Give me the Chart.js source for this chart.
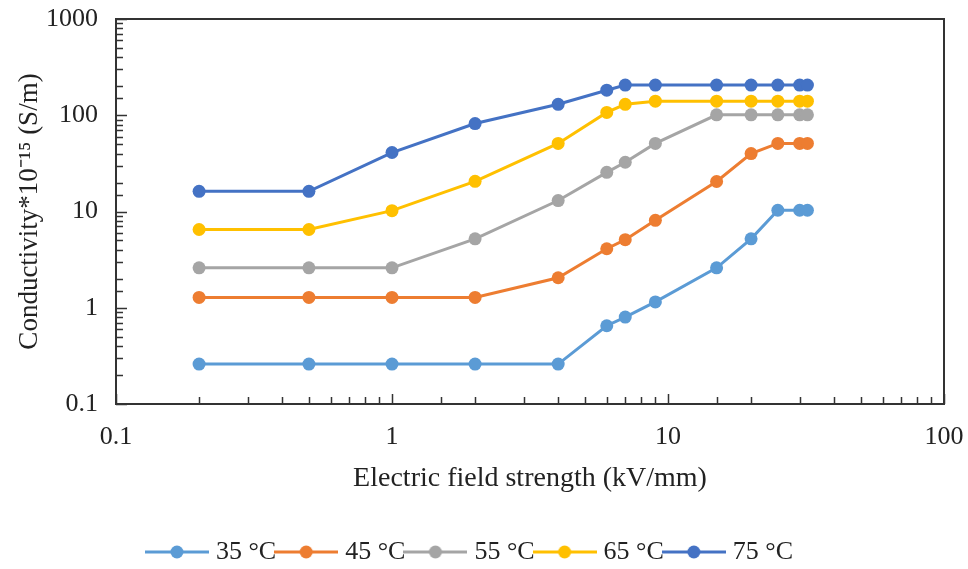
<!DOCTYPE html>
<html>
<head>
<meta charset="utf-8">
<script src="https://cdn.jsdelivr.net/npm/chart.js@4.4.1/dist/chart.umd.min.js"></script>
<style>
  html, body { margin: 0; padding: 0; background: #fff; }
  #chart { display: block; }
</style>
</head>
<body>
<canvas id="chart" width="968" height="569"></canvas>
<script>
// Campo eléctrico (kV/mm) y conductividad (x10^-15 S/m)
const campo = [0.2, 0.5, 1, 2, 4, 6, 7, 9, 15, 20, 25, 30, 32];
const temperaturas = ["35 °C", "45 °C", "55 °C", "65 °C", "75 °C"];
const cond35 = [0.26, 0.26, 0.26, 0.26, 0.26, 0.65, 0.8, 1.15, 2.6, 5.2, 10.3, 10.3, 10.3];
const cond45 = [1.28, 1.28, 1.28, 1.28, 2.05, 4.1, 5.1, 8.1, 20.5, 40, 51, 51, 51];
const cond55 = [2.6, 2.6, 2.6, 5.2, 13, 25.5, 32.5, 51, 101, 101, 101, 101, 101];
const cond65 = [6.5, 6.5, 10.2, 20.6, 51, 107, 130, 140, 140, 140, 140, 140, 140];
const cond75 = [16.2, 16.2, 41, 82, 130, 182, 206, 206, 206, 206, 206, 206, 206];
const colores = ["#5B9BD5", "#ED7D31", "#A5A5A5", "#FFC000", "#4472C4"];
const ticksX = [0.1, 1, 10, 100];
const ticksY = [0.1, 1, 10, 100, 1000];

const FUENTE = '"Liberation Serif", "Times New Roman", serif';
const series = [cond35, cond45, cond55, cond65, cond75];

function esDecada(v, lista) {
    return lista.find((t) => Math.abs(Math.log10(v) - Math.log10(t)) < 1e-6);
}

// muestra de la leyenda: línea con un punto en el centro
const muestras = colores.map((c) => {
    const cv = document.createElement("canvas");
    cv.width = 64;
    cv.height = 16;
    const g = cv.getContext("2d");
    g.strokeStyle = c;
    g.lineWidth = 3;
    g.beginPath();
    g.moveTo(0, 8);
    g.lineTo(64, 8);
    g.stroke();
    g.fillStyle = c;
    g.beginPath();
    g.arc(32, 8, 6.5, 0, Math.PI * 2);
    g.fill();
    return cv;
});

// marcas hacia dentro y marco del área
const marcasInternas = {
    id: "marcasInternas",
    afterDraw(chart) {
        const { ctx, chartArea: a, scales: { x, y } } = chart;
        ctx.save();
        ctx.strokeStyle = "#333";
        ctx.lineWidth = 1.5;
        ctx.beginPath();
        x.ticks.forEach((t) => {
            const px = Math.round(x.getPixelForValue(t.value)) + 0.5;
            const len = esDecada(t.value, ticksX) ? 10 : 7;
            ctx.moveTo(px, a.bottom);
            ctx.lineTo(px, a.bottom - len);
        });
        y.ticks.forEach((t) => {
            const py = Math.round(y.getPixelForValue(t.value)) + 0.5;
            const len = esDecada(t.value, ticksY) ? 11 : 7;
            ctx.moveTo(a.left, py);
            ctx.lineTo(a.left + len, py);
        });
        ctx.stroke();
        ctx.lineWidth = 2;
        ctx.strokeRect(a.left, a.top, a.width, a.height);
        ctx.restore();
    },
};

const datasets = temperaturas.map((t, i) => ({
    label: t,
    data: campo.map((x, j) => ({ x, y: series[i][j] })),
    borderColor: colores[i],
    backgroundColor: colores[i],
    pointBackgroundColor: colores[i],
    borderWidth: 3,
    pointRadius: 6.5,
    pointHoverRadius: 6.5,
    pointBorderWidth: 0,
    tension: 0,
    fill: false,
}));

new Chart(document.getElementById("chart"), {
    type: "line",
    data: { datasets },
    plugins: [marcasInternas],
    options: {
        responsive: false,
        animation: false,
        devicePixelRatio: 1,
        layout: { padding: { top: 19, right: 24, left: 0, bottom: -6 } },
        plugins: {
            tooltip: { enabled: false },
            legend: {
                position: "bottom",
                labels: {
                    color: "#222",
                    font: { family: FUENTE, size: 26 },
                    usePointStyle: true,
                    pointStyleWidth: 52,
                    padding: 4,
                    generateLabels(chart) {
                        const items = Chart.defaults.plugins.legend.labels.generateLabels(chart);
                        items.forEach((it) => { it.pointStyle = muestras[it.datasetIndex]; });
                        return items;
                    },
                },
            },
        },
        scales: {
            x: {
                type: "logarithmic",
                min: 0.1,
                max: 100,
                afterFit: (s) => {
                    s.height = 131;
                    s.paddingLeft = 0;
                    s.paddingRight = 0;
                },
                grid: { display: false, drawTicks: false },
                border: { display: false },
                ticks: {
                    autoSkip: false,
                    maxRotation: 0,
                    padding: 18,
                    color: "#222",
                    font: { family: FUENTE, size: 26 },
                    callback: (v) => { const t = esDecada(v, ticksX); return t ? String(t) : ""; },
                },
                title: {
                    display: true,
                    text: "Electric field strength (kV/mm)",
                    color: "#222",
                    font: { family: FUENTE, size: 28 },
                    padding: { top: 0, bottom: 40 },
                },
            },
            y: {
                type: "logarithmic",
                min: 0.1,
                max: 1000,
                afterFit: (s) => {
                    s.width = 116;
                    s.paddingTop = 0;
                    s.paddingBottom = 0;
                },
                grid: { display: false, drawTicks: false },
                border: { display: false },
                ticks: {
                    autoSkip: false,
                    padding: 18,
                    color: "#222",
                    font: { family: FUENTE, size: 26 },
                    callback: (v) => { const t = esDecada(v, ticksY); return t ? String(t) : ""; },
                },
                title: {
                    display: true,
                    text: "Conductivity*10⁻¹⁵ (S/m)",
                    color: "#222",
                    font: { family: FUENTE, size: 27 },
                    padding: { top: 14, bottom: 0 },
                },
            },
        },
    },
});
</script>
</body>
</html>
